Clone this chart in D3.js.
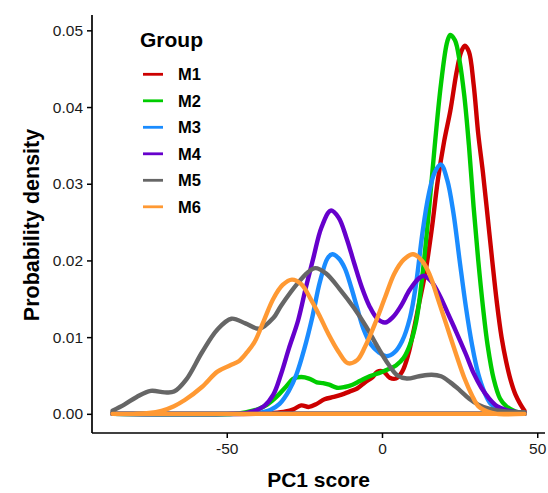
<!DOCTYPE html>
<html>
<head>
<meta charset="utf-8">
<script src="https://cdn.jsdelivr.net/npm/d3@7"></script>
<style>
  html, body { margin: 0; padding: 0; background: #fff; }
  svg { display: block; font-family: "Liberation Sans", Arial, Helvetica, sans-serif; }
</style>
</head>
<body>
<svg id="chart" width="548" height="493"></svg>
<script>
// Kernel density estimates of PC1 score, one curve per group: [score, density]
const groups = ["M1", "M2", "M3", "M4", "M5", "M6"];
const groupColors = ["#CC0000", "#00CC00", "#1A8CFF", "#6600CC", "#666666", "#FF9933"];

const densityM1 = [
  [-86.8, 0], [-40, 0], [-35, 0.0001], [-31, 0.0003], [-28.5, 0.0006], [-26, 0.0011],
  [-23.5, 0.0009], [-21, 0.0013], [-18.5, 0.0019], [-15.5, 0.0022], [-13, 0.0025],
  [-10.5, 0.0029], [-8, 0.0033], [-5.5, 0.0041], [-3, 0.0048], [-1.5, 0.0055],
  [0.5, 0.0055], [2.5, 0.0047], [4.5, 0.0046], [6.5, 0.0055], [8.5, 0.0078],
  [10, 0.0105], [12, 0.0145], [14, 0.0185], [16, 0.0240], [18, 0.0305], [20, 0.0355],
  [22, 0.0395], [24, 0.0445], [25.5, 0.0472], [26.7, 0.0480], [28, 0.0472],
  [29.5, 0.0430], [31, 0.0365], [32.5, 0.0315], [34, 0.0258], [35.5, 0.0200],
  [37, 0.0145], [38.5, 0.0100], [40, 0.0068], [41.5, 0.0043], [43, 0.0025],
  [44.5, 0.0013], [45.9, 0.0004]
];
const densityM2 = [
  [-86.8, 0], [-48, 0], [-44, 0.0002], [-40, 0.0006], [-37, 0.0012], [-34, 0.0022],
  [-31, 0.0035], [-28.5, 0.0046], [-26, 0.0048], [-23.5, 0.0046], [-21, 0.0041],
  [-19, 0.0040], [-17, 0.0038], [-14.5, 0.0034], [-12, 0.0035], [-9.5, 0.0038],
  [-7, 0.0043], [-4, 0.0049], [-1, 0.0053], [2, 0.0058], [4.5, 0.0063], [7, 0.0073],
  [9, 0.0090], [11, 0.0120], [13, 0.0180], [15, 0.0260], [17, 0.0350], [19, 0.0430],
  [21, 0.0485], [22, 0.0494], [23.5, 0.0487], [25, 0.0460], [26.5, 0.0415],
  [28, 0.0350], [29.5, 0.0270], [31, 0.0200], [32.5, 0.0140], [34, 0.0090],
  [36, 0.0045], [38, 0.0020], [40, 0.0010], [43, 0.0003], [45.9, 0.0001]
];
const densityM3 = [
  [-86.8, 0], [-45, 0], [-40, 0.0001], [-36, 0.0005], [-33, 0.0013], [-30, 0.0030],
  [-27.5, 0.0052], [-25, 0.0085], [-22.5, 0.0125], [-20, 0.0172], [-17.5, 0.0203],
  [-16, 0.0208], [-14, 0.0203], [-12, 0.0190], [-10, 0.0166], [-8, 0.0138],
  [-6, 0.0111], [-3.5, 0.0090], [-1, 0.0080], [1.5, 0.0075], [4, 0.0080],
  [6.5, 0.0095], [9, 0.0125], [11, 0.0170], [13, 0.0235], [15, 0.0285], [17, 0.0315],
  [19, 0.0325], [21, 0.0305], [23, 0.0262], [25, 0.0200], [27, 0.0140], [29, 0.0090],
  [31, 0.0052], [33, 0.0028], [35, 0.0013], [38, 0.0005], [42, 0.0002], [45.9, 0.0001]
];
const densityM4 = [
  [-86.8, 0], [-50, 0], [-44, 0.0001], [-41, 0.0004], [-38, 0.0010], [-35, 0.0025],
  [-32.5, 0.0052], [-30, 0.0085], [-27, 0.0122], [-24.5, 0.0165], [-22, 0.0205],
  [-19.5, 0.0243], [-16.5, 0.0265], [-14, 0.0256], [-11.5, 0.0230], [-9, 0.0197],
  [-6.5, 0.0165], [-4, 0.0140], [-1.5, 0.0124], [1, 0.0119], [3.5, 0.0126],
  [6, 0.0140], [9, 0.0162], [12, 0.0177], [13.5, 0.0180], [16, 0.0172], [18.5, 0.0155],
  [21, 0.0133], [24, 0.0106], [27, 0.0078], [29.5, 0.0053], [32, 0.0034],
  [34.5, 0.0020], [37, 0.0010], [40, 0.0005], [45.9, 0.0001]
];
const densityM5 = [
  [-86.8, 0.0004], [-83, 0.0012], [-79, 0.0022], [-74.5, 0.0030], [-70, 0.0028],
  [-67, 0.0029], [-63, 0.0045], [-58, 0.0080], [-53, 0.0110], [-48.5, 0.0124],
  [-44, 0.0118], [-39.5, 0.0111], [-35, 0.0125], [-32.5, 0.0141], [-27, 0.0171],
  [-24, 0.0184], [-21.5, 0.0190], [-18, 0.0183], [-13.5, 0.0162], [-9, 0.0138],
  [-5, 0.0113], [-1.5, 0.0088], [2, 0.0065], [5, 0.0050], [8, 0.0046], [12, 0.0049],
  [16, 0.0051], [19, 0.0049], [22, 0.0041], [25, 0.0031], [28, 0.0020], [31, 0.0012],
  [35, 0.0006], [40, 0.0003], [45.9, 0.0002]
];
const densityM6 = [
  [-86.8, 0], [-80, 0], [-75, 0.0001], [-71, 0.0004], [-67, 0.0010], [-63.5, 0.0018],
  [-58, 0.0035], [-53, 0.0055], [-49, 0.0063], [-46, 0.0069], [-43.5, 0.0080],
  [-41, 0.0094], [-38, 0.0122], [-35, 0.0150], [-32, 0.0168], [-29, 0.0175],
  [-26, 0.0169], [-23, 0.0150], [-20, 0.0127], [-17.5, 0.0106], [-14, 0.0081],
  [-11, 0.0066], [-8, 0.0070], [-5.5, 0.0087], [-2, 0.0120], [1, 0.0152], [4, 0.0183],
  [7, 0.0201], [10, 0.0208], [13, 0.0199], [15.5, 0.0180], [18, 0.0150], [21, 0.0113],
  [24, 0.0076], [26.5, 0.0047], [29, 0.0024], [31, 0.0010], [34, 0.0003], [37, 0],
  [45.9, 0]
];
const densities = [densityM1, densityM2, densityM3, densityM4, densityM5, densityM6];

const xTicks = [-50, 0, 50];
const yTicks = [0, 0.01, 0.02, 0.03, 0.04, 0.05];

const svg = d3.select("#chart");
const margin = { left: 92, right: 3, top: 15, bottom: 60 };
const W = 548, H = 493;

const x = d3.scaleLinear().domain([-93.4, 52.5]).range([margin.left, W - margin.right]);
const y = d3.scaleLinear().domain([-0.0025, 0.052]).range([H - margin.bottom, margin.top]);

// Density outlines: the curve plus its baseline at zero, unfilled
const area = d3.area()
  .x(d => x(d[0]))
  .y0(y(0))
  .y1(d => y(d[1]))
  .curve(d3.curveCatmullRom.alpha(0.5));

const curves = svg.append("g");
densities.forEach((pts, i) => {
  curves.append("path")
    .datum(pts)
    .attr("d", area)
    .attr("fill", "none")
    .attr("stroke", groupColors[i])
    .attr("stroke-width", 4.4)
    .attr("stroke-linejoin", "round")
    .attr("stroke-linecap", "round");
});

// Axes (plain hyphen for negative tick labels)
const fmtX = d => String(d);
const xAxis = svg.append("g")
  .attr("transform", `translate(0,${H - margin.bottom})`)
  .call(d3.axisBottom(x).tickValues(xTicks).tickSize(5).tickPadding(5).tickFormat(fmtX));
const yAxis = svg.append("g")
  .attr("transform", `translate(${margin.left},0)`)
  .call(d3.axisLeft(y).tickValues(yTicks).tickSize(5).tickPadding(4).tickFormat(d => d.toFixed(2)));

[xAxis, yAxis].forEach(a => {
  a.select(".domain").attr("stroke", "#000").attr("stroke-width", 1.7);
  a.selectAll(".tick line").attr("stroke", "#000").attr("stroke-width", 1.5);
  a.selectAll(".tick text").attr("fill", "#1a1a1a").attr("font-size", 15.5)
    .attr("font-family", "'Liberation Sans', Arial, sans-serif");
});
xAxis.select(".domain").attr("d", `M${margin.left},0H${W - margin.right}`);
yAxis.select(".domain").attr("d", `M0,${margin.top}V${H - margin.bottom}`);

// Axis titles
svg.append("text")
  .attr("x", (margin.left + W - margin.right) / 2)
  .attr("y", 487)
  .attr("text-anchor", "middle")
  .attr("font-size", 21)
  .attr("font-weight", "bold")
  .text("PC1 score");

svg.append("text")
  .attr("transform", `translate(39,225) rotate(-90)`)
  .attr("text-anchor", "middle")
  .attr("font-size", 21.5)
  .attr("font-weight", "bold")
  .text("Probability density");

// Legend
const legend = svg.append("g");
legend.append("text")
  .attr("x", 140).attr("y", 47)
  .attr("font-size", 21)
  .attr("font-weight", "bold")
  .text("Group");

groups.forEach((g, i) => {
  const cy = 74.3 + i * 26.5;
  legend.append("line")
    .attr("x1", 143).attr("x2", 163)
    .attr("y1", cy).attr("y2", cy)
    .attr("stroke", groupColors[i])
    .attr("stroke-width", 2.8);
  legend.append("text")
    .attr("x", 178).attr("y", cy + 6)
    .attr("font-size", 16.5)
    .attr("font-weight", "bold")
    .text(g);
});
</script>
</body>
</html>
